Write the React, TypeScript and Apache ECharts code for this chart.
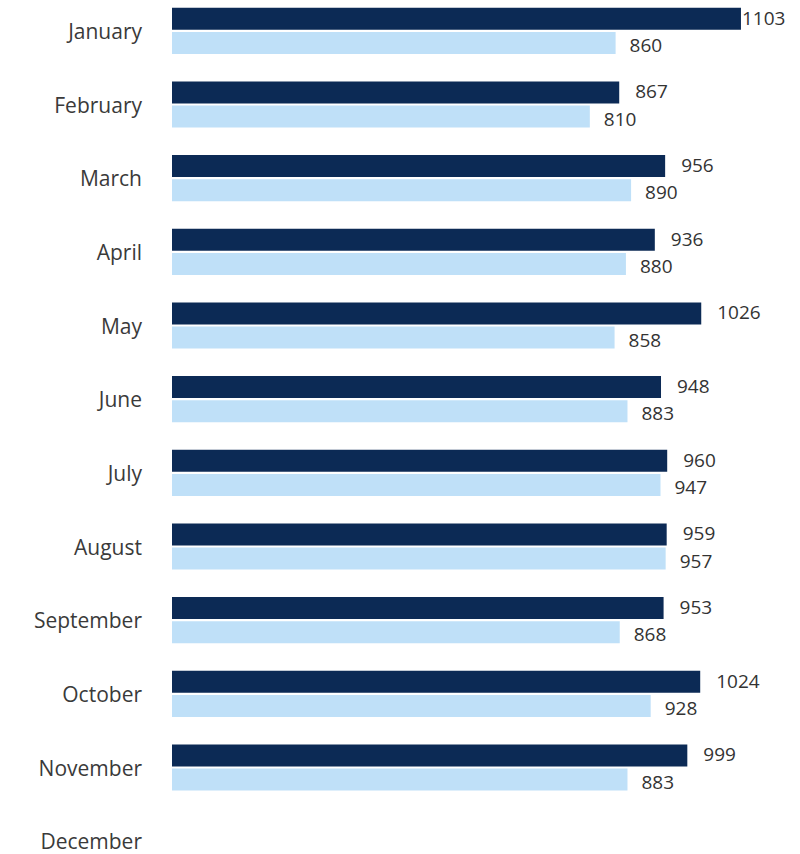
import React, { useEffect, useRef } from "react";
import * as echarts from "echarts";

const months = ["January", "February", "March", "April", "May", "June", "July", "August", "September", "October", "November", "December"];
const darkValues: (number | null)[] = [1103, 867, 956, 936, 1026, 948, 960, 959, 953, 1024, 999, null];
const lightValues: (number | null)[] = [860, 810, 890, 880, 858, 883, 947, 957, 868, 928, 883, null];

export default function App() {
  const ref = useRef<HTMLDivElement>(null);
  useEffect(() => {
    const chart = echarts.init(ref.current!, undefined, { renderer: "svg" });
    const labelBase = {
      show: true,
      position: "right" as const,
      distance: 16,
      fontFamily: "Open Sans",
      fontSize: 19,
      color: "#333333",
    };
    chart.setOption({
      animation: false,
      backgroundColor: "#ffffff",
      grid: { left: 172, right: 9, top: 0, bottom: 0, containLabel: false },
      xAxis: {
        type: "value",
        min: 0,
        max: 1200,
        show: false,
      },
      yAxis: {
        type: "category",
        data: months,
        inverse: true,
        axisLine: { show: false },
        axisTick: { show: false },
        splitLine: { show: false },
        axisLabel: {
          margin: 30,
          fontFamily: "Open Sans",
          fontSize: 21,
          lineHeight: 20,
          color: "#3a3a3a",
        },
      },
      series: [
        {
          type: "bar",
          data: darkValues.map((v, i) =>
            i === 0 ? { value: v, label: { distance: 1 } } : v
          ),
          barWidth: 22,
          barGap: "10%",
          itemStyle: { color: "#0c2a55" },
          label: { ...labelBase, offset: [0, -1] },
        },
        {
          type: "bar",
          data: lightValues,
          barWidth: 22,
          itemStyle: { color: "#bfe0f8" },
          label: { ...labelBase, distance: 14, offset: [0, 2] },
        },
      ],
    });
    return () => chart.dispose();
  }, []);
  return (
    <div
      ref={ref}
      style={{ position: "fixed", left: 0, top: -6, width: 800, height: 884 }}
    />
  );
}
